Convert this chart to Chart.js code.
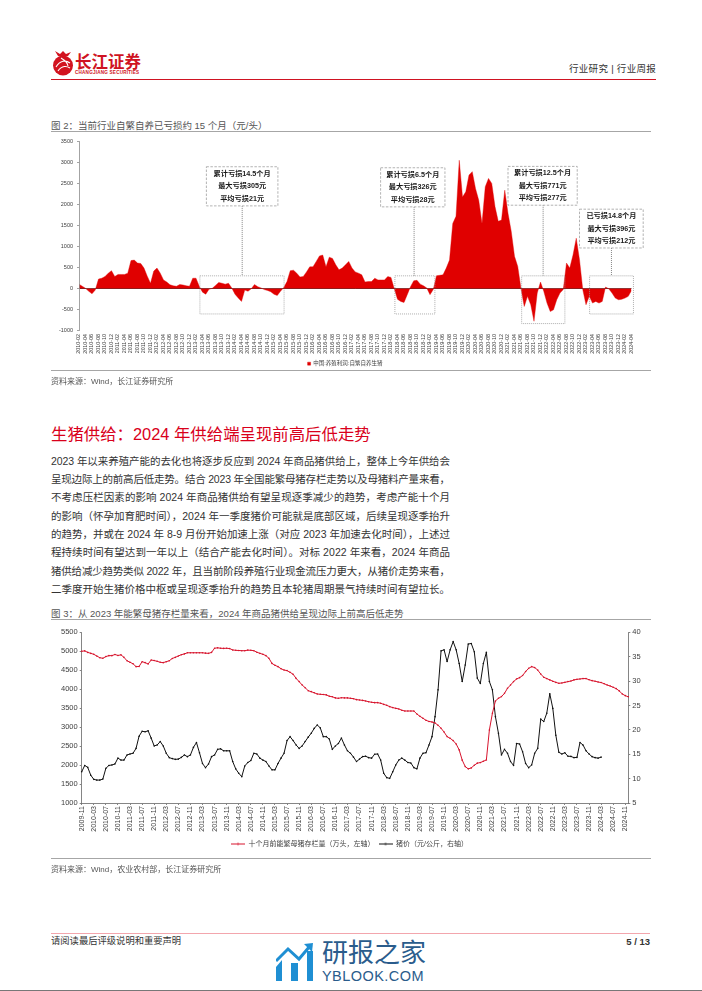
<!DOCTYPE html>
<html lang="zh">
<head>
<meta charset="utf-8">
<title>行业周报</title>
<script src="https://cdn.jsdelivr.net/npm/chart.js@4/dist/chart.umd.min.js"></script>
<style>
  html, body { margin: 0; padding: 0; background: #fff; }
  #page { position: relative; width: 702px; height: 991px; overflow: hidden; font-family: "Liberation Sans", "Noto Sans CJK SC", sans-serif; color: #333; }
  #page > * { position: absolute; }
  .t { white-space: nowrap; line-height: 1; }
  .rule { height: 1px; background: #a6a6a6; left: 51px; width: 600px; }
  .figtitle { left: 51px; font-size: 9.5px; color: #555; }
  .source { left: 51px; font-size: 8px; color: #555; }
  .body { left: 51px; font-size: 10.5px; line-height: 1; white-space: nowrap; color: #333; }
  canvas { display: block; }
</style>
</head>
<body>
<div id="page">
  <!-- header -->
  <svg style="left:52px;top:50px" width="22" height="26" viewBox="0 0 22 26">
    <circle cx="11" cy="15.5" r="10" fill="#d2131f"/>
    <path d="M4 17c4-7 10-7 14-4M6 21c4-6 9-5 12-3M9 8c3 2 6 3 7 8" stroke="#fff" stroke-width="1.1" fill="none"/>
    <path d="M3 1l5 3 3-3 3 3 5-2-3 4H6z" fill="#d2131f"/>
  </svg>
  <div class="t" style="left:75px;top:53px;font-size:16.5px;font-weight:700;color:#cf1322;font-family:'Noto Sans CJK SC'">长江证券</div>
  <div class="t" style="left:75px;top:71px;font-size:4.6px;font-weight:700;letter-spacing:.22px;color:#cf1322">CHANGJIANG SECURITIES</div>
  <div class="t" style="left:569px;top:64px;font-size:9.5px;letter-spacing:.3px;color:#333">行业研究 | 行业周报</div>
  <div style="left:51px;top:78.5px;width:605px;height:1.5px;background:#cf1322"></div>

  <!-- figure 2 -->
  <div class="t figtitle" style="top:121px">图 2：当前行业自繁自养已亏损约 15 个月（元/头）</div>
  <div class="rule" style="top:131px"></div>
  <canvas id="profitChart" width="702" height="245" style="left:0;top:134px"></canvas>
  <div class="rule" style="top:370px"></div>
  <div class="t source" style="top:378px">资料来源：Wind，长江证券研究所</div>

  <!-- section text -->
  <div class="t" style="left:51px;top:426px;font-size:16.4px;color:#d9001b">生猪供给：2024 年供给端呈现前高后低走势</div>
  <div class="body" style="top:455.5px">2023 年以来养殖产能的去化也将逐步反应到 2024 年商品猪供给上，整体上今年供给会</div>
  <div class="body" style="top:474px">呈现边际上的前高后低走势。结合 2023 年全国能繁母猪存栏走势以及母猪料产量来看，</div>
  <div class="body" style="top:492px">不考虑压栏因素的影响 2024 年商品猪供给有望呈现逐季减少的趋势，考虑产能十个月</div>
  <div class="body" style="top:510.5px">的影响（怀孕加育肥时间），2024 年一季度猪价可能就是底部区域，后续呈现逐季抬升</div>
  <div class="body" style="top:528.8px">的趋势，并或在 2024 年 8-9 月份开始加速上涨（对应 2023 年加速去化时间），上述过</div>
  <div class="body" style="top:547px">程持续时间有望达到一年以上（结合产能去化时间）。对标 2022 年来看，2024 年商品</div>
  <div class="body" style="top:565.8px">猪供给减少趋势类似 2022 年，且当前阶段养殖行业现金流压力更大，从猪价走势来看，</div>
  <div class="body" style="top:584px">二季度开始生猪价格中枢或呈现逐季抬升的趋势且本轮猪周期景气持续时间有望拉长。</div>

  <!-- figure 3 -->
  <div class="t figtitle" style="top:608.5px">图 3：从 2023 年能繁母猪存栏量来看，2024 年商品猪供给呈现边际上前高后低走势</div>
  <div class="rule" style="top:619px"></div>
  <canvas id="supplyChart" width="702" height="242" style="left:0;top:622px"></canvas>
  <div class="rule" style="top:858px"></div>
  <div class="t source" style="top:866px">资料来源：Wind，农业农村部，长江证券研究所</div>

  <!-- footer -->
  <div style="left:51px;top:932.5px;width:599px;height:1.5px;background:#f3a6ad"></div>
  <div class="t" style="left:51px;top:937px;font-size:9.3px;color:#333">请阅读最后评级说明和重要声明</div>
  <div class="t" style="right:52px;top:937px;font-size:9.5px;font-weight:700;color:#333">5 / 13</div>
  <svg style="left:276px;top:943px" width="38" height="38" viewBox="0 0 38 38">
    <path d="M0 38V24l6-7v21zM15 38V20h7v18zM31 38V8h6v30z" fill="#1f8fd3"/>
    <path d="M0 18L12 6l11 10L34 3" stroke="#1f8fd3" stroke-width="3" fill="none"/>
    <path d="M28 1l9-1-1 9z" fill="#1f8fd3"/>
  </svg>
  <div class="t" style="left:322px;top:940px;font-size:26px;color:#2a5c8c">研报之家</div>
  <div class="t" style="left:322px;top:969px;font-size:14.5px;letter-spacing:.45px;color:#2a5c8c">YBLOOK.COM</div>
  <div style="left:0;top:989.5px;width:702px;height:1.5px;background:#777"></div>
</div>

<script>
const FONT = '"Liberation Sans", "Noto Sans CJK SC", sans-serif';

// body lines all end at the same right edge in the source page
document.querySelectorAll('.body').forEach(el => {
  const text = el.textContent;
  const extra = 399 - el.getBoundingClientRect().width;
  el.style.letterSpacing = (extra / (text.length - 1)) + 'px';
});

function monthLabels(year, month, count) {
  const out = [];
  for (let i = 0; i < count; i++) {
    const m = month - 1 + i;
    out.push((year + Math.floor(m / 12)) + '-' + String(m % 12 + 1).padStart(2, '0'));
  }
  return out;
}

// figure 2: monthly, 2010-02 .. 2024-04, yuan per head
const profitMonths = monthLabels(2010, 2, 171);
const profitValues = [
  110, 60, 10, -60, -120, -30, 230, 250, 290, 370,
  430, 290, 340, 340, 340, 370, 670, 680, 610, 600,
  490, 300, 130, 420, 490, 370, 210, 160, 95, 70,
  60, 100, 90, 70, 60, 250, 250, 60, -80, -130,
  -10, 10, 80, 150, 130, 110, 130, 20, -130, -220,
  -300, -30, -60, 0, 100, 50, 20, -20, -40, -70,
  -130, -160, -60, 30, 170, 430, 440, 370, 280, 290,
  400, 520, 520, 650, 780, 800, 520, 750, 720, 570,
  450, 490, 570, 650, 490, 400, 370, 330, 160, 170,
  170, 250, 210, 210, 210, 290, 270, 0, -250, -300,
  -326, -140, 50, 190, 200, 110, 70, 20, -140, -20,
  310, 320, 330, 490, 680, 1550, 1720, 3050, 2180, 2300,
  2700, 2780, 2380, 2100, 1550, 2420, 2620, 2500, 1950, 1600,
  1630, 2340, 1790, 1360, 770, 530, 0, -420, -180, -380,
  -771, -100, 160, -60, -340, -540, -500, -260, -100, -20,
  610, 490, 800, 1200, 690, -20, -380, -180, -340, -300,
  -340, -300, 40, 0, -100, -220, -260, -250, -220, -180, -40
];
const profitTicks = [3500, 3000, 2500, 2000, 1500, 1000, 500, 0, -500, -1000];

// loss periods marked on figure 2
const lossPeriods = [
  { from: 37.2, to: 63.1, top: 307, bottom: -598, lineAt: 50.2,
    left: 39.2, right: 61.2, boxTop: 2896, boxBottom: 1967,
    text: ['累计亏损14.5个月', '最大亏损305元', '平均亏损21元'] },
  { from: 97.2, to: 109.5, top: 307, bottom: -598, lineAt: 103.1,
    left: 92.8, right: 112.6, boxTop: 2872, boxBottom: 1944,
    text: ['累计亏损6.5个月', '最大亏损326元', '平均亏损28元'] },
  { from: 136.2, to: 149.5, top: 307, bottom: -826, lineAt: 142.8,
    left: 132, right: 153.3, boxTop: 2904, boxBottom: 1983,
    text: ['累计亏损12.5个月', '最大亏损771元', '平均亏损277元'] },
  { from: 157.1, to: 170.6, top: 307, bottom: -598, lineAt: 163.8,
    left: 154, right: 173.6, boxTop: 1889, boxBottom: 968,
    text: ['已亏损14.8个月', '最大亏损396元', '平均亏损212元'] }
];

// figure 3: monthly, 2009-11 .. 2024-12
const supplyMonths = monthLabels(2009, 11, 182);
const sowStock = [
  5000, 5010, 4970, 4945, 4920, 4875, 4830, 4815, 4860, 4885,
  4885, 4915, 4890, 4905, 4840, 4750, 4710, 4670, 4595, 4600,
  4725, 4700, 4665, 4770, 4755, 4735, 4710, 4700, 4725, 4750,
  4810, 4840, 4875, 4910, 4930, 4960, 4960, 4960, 4960, 4960,
  4960, 4950, 4945, 4970, 5080, 5090, 5080, 5075, 5080, 5070,
  5035, 5025, 5020, 5015, 5015, 5030, 5025, 5015, 4975, 4945,
  4920, 4885, 4815, 4680, 4630, 4595, 4540, 4505, 4490, 4445,
  4395, 4285, 4200, 4110, 4040, 3960, 3935, 3905, 3875, 3865,
  3860, 3850, 3815, 3800, 3770, 3760, 3775, 3770, 3770, 3760,
  3750, 3725, 3715, 3705, 3690, 3670, 3655, 3645, 3645, 3630,
  3600, 3575, 3540, 3515, 3495, 3480, 3445, 3425, 3425, 3425,
  3425, 3345, 3285, 3235, 3180, 3150, 3135, 3110, 3050, 2970,
  2870, 2750, 2705, 2645, 2555, 2400, 2130, 1960, 1900, 1925,
  1995, 2050, 2065, 2100, 2135, 2925, 3365, 3690, 3760, 3805,
  3890, 4025, 4110, 4200, 4270, 4305, 4360, 4465, 4550, 4595,
  4570, 4505, 4400, 4315, 4280, 4245, 4210, 4180, 4155, 4165,
  4180, 4200, 4215, 4245, 4260, 4270, 4280, 4280, 4250, 4225,
  4210, 4190, 4175, 4145, 4110, 4085, 4050, 4015, 3955, 3875,
  3830, 3800
];
const hogPrice = [
  11.4, 12.7, 12.3, 10.7, 9.85, 9.7, 9.7, 9.9, 12.1, 12.7,
  12.8, 13, 14.2, 13.8, 13.8, 14.85, 15.05, 15.2, 16.2, 18.7,
  19.7, 19.6, 19.8, 18.3, 16.7, 16.9, 17.6, 16.7, 15.2, 14.3,
  14.1, 13.95, 14, 14.35, 14.85, 14.5, 14.85, 16.4, 17.4, 15.3,
  13.1, 12.25, 13, 14.5, 14.85, 16, 16.1, 15.7, 15.7, 15.7,
  13.5, 12, 11.1, 10.4, 12.6, 13.3, 13.7, 15.2, 15.05, 14.2,
  13.8, 13.5, 12.6, 11.8, 11.8, 13.1, 14.2, 15.2, 17.8, 18.6,
  17.8, 16.9, 16.2, 16.7, 17.6, 18.5, 19.3, 20.3, 21, 20.4,
  18.6, 18.6, 18.1, 16, 16.7, 17.2, 18.3, 16.9, 15.7, 15.2,
  14.4, 13.5, 14, 14.5, 14.6, 14.3, 14.2, 15, 15.05, 13.8,
  11.1, 10.2, 10.05, 11.4, 12.8, 13.8, 14.2, 13.8, 13.3, 13.2,
  12.25, 12, 14.2, 15.2, 15.3, 16.9, 18.6, 22.7, 28.2, 36.2,
  36.4, 34, 36.4, 38.1, 36.4, 33.6, 29.9, 33.3, 37.6, 37.7,
  36, 30.6, 29.5, 33.6, 35.9, 29.9, 28.2, 22.7, 19.3, 14.85,
  16, 15.2, 13.5, 12.7, 17.2, 17.1, 15.5, 13.1, 12.25, 12.8,
  15.2, 16.2, 22.2, 21.7, 23.4, 27.4, 24.4, 18.9, 15.4, 15.05,
  15.3, 14.6, 14.55, 14.3, 14.35, 17.4, 16.9, 15.7, 15.05, 14.5,
  14.3, 14.2, 14.4
];

const AXIS_GREY = '#8c8c8c';
const TEXT_GREY = '#404040';

const lossPeriodPlugin = {
  id: 'lossPeriods',
  afterDatasetsDraw(chart) {
    const { ctx, scales: { x, y } } = chart;
    ctx.save();
    lossPeriods.forEach(p => {
      const left = x.getPixelForValue(p.from), right = x.getPixelForValue(p.to);
      const top = y.getPixelForValue(p.top), bottom = y.getPixelForValue(p.bottom);
      const boxL = x.getPixelForValue(p.left), boxR = x.getPixelForValue(p.right);
      const boxT = y.getPixelForValue(p.boxTop), boxB = y.getPixelForValue(p.boxBottom);
      const lineX = x.getPixelForValue(p.lineAt);

      ctx.strokeStyle = '#9a9a9a';
      ctx.lineWidth = 0.8;
      ctx.setLineDash([1, 1]);
      ctx.strokeRect(left, top, right - left, bottom - top);
      ctx.strokeStyle = '#666';
      ctx.beginPath();
      ctx.moveTo(lineX, boxB);
      ctx.lineTo(lineX, top);
      ctx.stroke();

      ctx.fillStyle = '#fff';
      ctx.fillRect(boxL, boxT, boxR - boxL, boxB - boxT);
      ctx.strokeStyle = '#a0a0a0';
      ctx.setLineDash([2.5, 1.5]);
      ctx.strokeRect(boxL, boxT, boxR - boxL, boxB - boxT);
      ctx.setLineDash([]);

      ctx.fillStyle = '#1a1a1a';
      ctx.font = 'bold 7.2px ' + FONT;
      ctx.textAlign = 'center';
      ctx.textBaseline = 'middle';
      p.text.forEach((line, i) => {
        ctx.fillText(line, (boxL + boxR) / 2, boxT + 6.8 + i * 12.6);
      });
    });
    ctx.restore();
  }
};

new Chart(document.getElementById('profitChart'), {
  type: 'line',
  data: {
    labels: profitMonths,
    datasets: [{
      label: '中国:养殖利润:自繁自养生猪',
      data: profitValues,
      fill: 'origin',
      backgroundColor: '#e00000',
      borderColor: '#e00000',
      borderWidth: 0.4,
      pointRadius: 0,
      tension: 0
    }]
  },
  options: {
    responsive: false,
    animation: false,
    devicePixelRatio: 1,
    layout: { padding: { left: 58.5, right: 70.5, top: 5.3, bottom: 2.6 } },
    plugins: {
      tooltip: { enabled: false },
      legend: {
        position: 'bottom',
        labels: { boxWidth: 3, boxHeight: 3, padding: 2, color: TEXT_GREY, font: { size: 5.5, family: FONT } }
      }
    },
    scales: {
      x: {
        offset: false,
        border: { display: false },
        grid: { display: false, drawTicks: false },
        afterFit(scale) { scale.height = 28; },
        afterBuildTicks(scale) { scale.ticks = scale.ticks.filter((t, i) => i % 2 === 0); },
        ticks: { autoSkip: false, minRotation: 90, maxRotation: 90, padding: 3, color: TEXT_GREY, font: { size: 5.4, family: FONT } }
      },
      y: {
        min: -1000,
        max: 3500,
        afterFit(scale) { scale.width = 20.5; },
        afterBuildTicks(scale) { scale.ticks = profitTicks.map(value => ({ value })); },
        border: { color: AXIS_GREY, width: 0.8, z: 2 },
        grid: {
          z: 1,
          drawTicks: true,
          tickLength: 2,
          tickColor: AXIS_GREY,
          color: ctx => (ctx.tick && ctx.tick.value === 0 ? '#7a1010' : 'transparent'),
          lineWidth: 0.8
        },
        ticks: { padding: 4, color: TEXT_GREY, font: { size: 5.5, family: FONT }, callback: value => String(value) }
      }
    }
  },
  plugins: [lossPeriodPlugin]
});

// legend sample: a short line with the small marker in the middle
function lineSample(color) {
  const c = document.createElement('canvas');
  c.width = 14;
  c.height = 5;
  const g = c.getContext('2d');
  g.fillStyle = color;
  g.fillRect(0, 2, 14, 1);
  g.beginPath();
  g.arc(7, 2.5, 1.1, 0, Math.PI * 2);
  g.fill();
  return c;
}

const SOW_RED = '#d7142d';
const HOG_BLACK = '#111111';
const legendSamples = [lineSample(SOW_RED), lineSample(HOG_BLACK)];

new Chart(document.getElementById('supplyChart'), {
  type: 'line',
  data: {
    labels: supplyMonths,
    datasets: [{
      label: '十个月前能繁母猪存栏量（万头，左轴）',
      data: sowStock,
      yAxisID: 'y',
      borderColor: SOW_RED,
      backgroundColor: SOW_RED,
      borderWidth: 1,
      pointRadius: 0.8,
      pointBorderWidth: 0,
      tension: 0
    }, {
      label: '猪价（元/公斤，右轴）',
      data: hogPrice,
      yAxisID: 'y1',
      borderColor: HOG_BLACK,
      backgroundColor: HOG_BLACK,
      borderWidth: 1,
      pointRadius: 0.8,
      pointBorderWidth: 0,
      tension: 0
    }]
  },
  options: {
    responsive: false,
    animation: false,
    devicePixelRatio: 1,
    layout: { padding: { left: 40, right: 43, top: 10.3, bottom: 6.5 } },
    plugins: {
      tooltip: { enabled: false },
      legend: {
        position: 'bottom',
        labels: {
          usePointStyle: true,
          pointStyleWidth: 14,
          padding: 4,
          color: TEXT_GREY,
          font: { size: 7, family: FONT },
          generateLabels(chart) {
            return Chart.defaults.plugins.legend.labels.generateLabels(chart).map((item, i) => {
              item.pointStyle = legendSamples[i];
              return item;
            });
          }
        }
      }
    },
    scales: {
      x: {
        offset: false,
        border: { color: '#666', width: 0.8 },
        grid: { drawOnChartArea: false, tickLength: 2, tickColor: '#666', lineWidth: 0.8 },
        afterFit(scale) { scale.height = 33.5; },
        afterBuildTicks(scale) { scale.ticks = scale.ticks.filter((t, i) => i % 4 === 0); },
        ticks: { autoSkip: false, minRotation: 90, maxRotation: 90, padding: 1, color: TEXT_GREY, font: { size: 7, family: FONT } }
      },
      y: {
        min: 1000,
        max: 5500,
        afterFit(scale) { scale.width = 41.7; },
        border: { color: '#666', width: 0.8 },
        grid: { drawOnChartArea: false, tickLength: 2, tickColor: '#666', lineWidth: 0.8 },
        ticks: { stepSize: 500, padding: 2, color: TEXT_GREY, font: { size: 7.5, family: FONT }, callback: value => String(value) }
      },
      y1: {
        position: 'right',
        min: 5,
        max: 40,
        afterFit(scale) { scale.width = 30.7; },
        border: { color: '#666', width: 0.8 },
        grid: { drawOnChartArea: false, tickLength: 2, tickColor: '#666', lineWidth: 0.8 },
        ticks: { stepSize: 5, padding: 2, color: TEXT_GREY, font: { size: 7.5, family: FONT } }
      }
    }
  }
});
</script>
</body>
</html>
